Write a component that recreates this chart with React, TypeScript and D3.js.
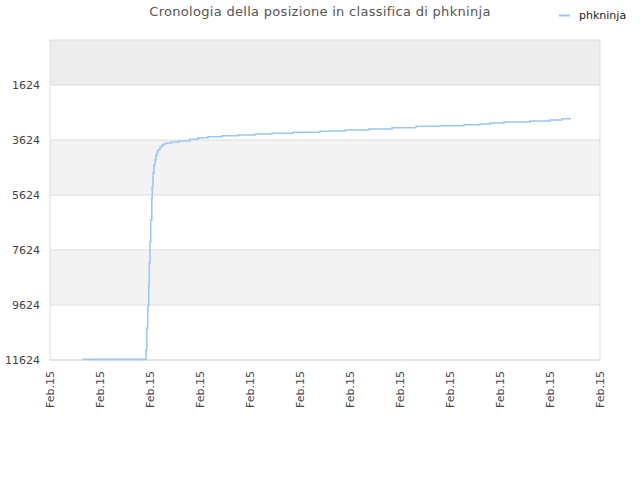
import React from "react";
import * as d3 from "d3";

const hours: number[] = [1.29, 3.84, 3.87, 3.91, 3.95, 3.97, 4.0, 4.03, 4.07, 4.09, 4.12, 4.16, 4.2, 4.24, 4.28, 4.32, 4.4, 4.48, 4.58, 4.68, 4.84, 5.16, 5.6, 5.92, 6.32, 6.88, 7.52, 8.2, 8.88, 9.72, 10.8, 11.2, 11.8, 12.76, 13.68, 14.64, 15.6, 16.56, 17.2, 17.6, 18.16, 19.2, 20.0, 20.48, 20.84];
const ranks: number[] = [11600, 11260, 10460, 9650, 8897, 8097, 7322, 6533, 5733, 5322, 4824, 4533, 4351, 4170, 4060, 3988, 3879, 3806, 3751, 3733, 3697, 3660, 3598, 3540, 3504, 3468, 3442, 3406, 3380, 3344, 3308, 3297, 3260, 3224, 3177, 3126, 3104, 3068, 3042, 3006, 2970, 2933, 2897, 2850, 2850];
const yTicks: number[] = [1624, 3624, 5624, 7624, 9624, 11624];
const xTickHours: number[] = [0, 2, 4, 6, 8, 10, 12, 14, 16, 18, 20, 22];
const xTickLabel = "Feb.15";
const title = "Cronologia della posizione in classifica di phkninja";
const seriesName = "phkninja";

export default function App() {
  const W = 640, H = 480;
  const left = 50, right = 600, top = 40, bottom = 360;
  const x = d3.scaleLinear().domain([0, 22]).range([left, right]);
  const y = d3.scaleLinear().domain([-12, 11624]).range([top, bottom]);
  const pts = hours.map((h, i) => [h, ranks[i]] as [number, number]);
  const line = d3.line<[number, number]>().x(d => x(d[0])).y(d => y(d[1])).curve(d3.curveStepAfter);
  const bandEdges = [-12, ...yTicks];
  const bandFill = (i: number) => (i === 0 ? "#ededed" : i % 2 === 0 ? "#f3f3f3" : "#ffffff");
  const font = "DejaVu Sans, sans-serif";
  return (
    <svg width={W} height={H} style={{ position: "absolute", left: 0, top: 0 }} fontFamily={font}>
      <rect x={0} y={0} width={W} height={H} fill="#fff" />
      {bandEdges.slice(0, -1).map((v, i) => (
        <rect key={i} x={left} y={y(v)} width={right - left} height={y(bandEdges[i + 1]) - y(v)} fill={bandFill(i)} />
      ))}
      {yTicks.map(t => (
        <line key={t} x1={left} x2={right} y1={y(t)} y2={y(t)} stroke="#dddddd" strokeWidth={1} />
      ))}
      <rect x={left} y={top} width={right - left} height={bottom - top} fill="none" stroke="#dddddd" strokeWidth={1} />
      {yTicks.map(t => (
        <text key={t} x={left - 10} y={y(t) + 4} textAnchor="end" fontSize={11} fill="#444">{t}</text>
      ))}
      {xTickHours.map(h => (
        <text key={h} transform={`translate(${x(h) + 4},${bottom + 11}) rotate(-90)`} textAnchor="end" fontSize={11} fill="#444">{xTickLabel}</text>
      ))}
      <path d={line(pts) || ""} fill="none" stroke="#99c8f5" strokeWidth={1.6} />
      <text x={320} y={16} textAnchor="middle" fontSize={13} fill="#555" letterSpacing={0.3}>{title}</text>
      <line x1={559} x2={570} y1={15.5} y2={15.5} stroke="#99c8f5" strokeWidth={2} />
      <text x={579} y={19} fontSize={11} fill="#222">{seriesName}</text>
    </svg>
  );
}
